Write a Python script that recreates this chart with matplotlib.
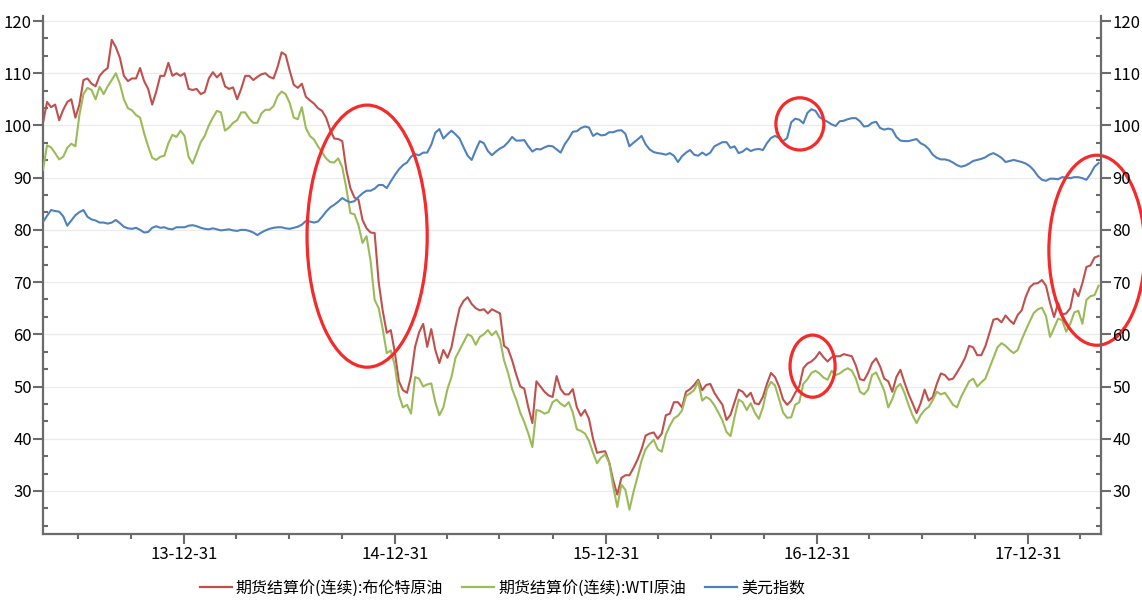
import matplotlib
matplotlib.use('Agg')
import matplotlib.pyplot as plt
import matplotlib.dates as mdates
from matplotlib.patches import Ellipse
from matplotlib.ticker import MultipleLocator, FixedLocator
from matplotlib.lines import Line2D
import pandas as pd

plt.rcParams['font.family'] = ['Noto Sans CJK SC', 'DejaVu Sans']

# ---------------- data (weekly readings) ----------------
start_date = '2013-05-01'
end_date = '2018-05-07'
series_names = ['期货结算价(连续):布伦特原油', '期货结算价(连续):WTI原油', '美元指数']

brent = [
    100.5, 104.5, 103.5, 104, 101, 103, 104.5, 105, 101.5, 104,
    108.7, 109, 108, 107.5, 109.5, 110.4, 111, 116.4, 115, 113,
    109.5, 108.5, 109, 109, 111, 108.5, 107, 104, 106.5, 109.5,
    109.5, 112, 109.5, 110, 109.5, 110, 107, 106.8, 107, 106,
    106.4, 109, 110.2, 109.2, 110, 107.5, 107, 107.3, 105, 107,
    109.5, 109.5, 108.7, 109.3, 109.8, 110, 109.3, 109, 111.2, 114,
    113.5, 110.5, 107.8, 107.2, 108, 105.5, 104.8, 104.2, 103.3, 102.8,
    101.5, 99.2, 97.5, 97.4, 97, 91.5, 88, 86.2, 85.8, 81.9,
    80.3, 79.5, 79.4, 70, 64.5, 60.3, 60.8, 56.5, 51, 49.3,
    48.8, 52, 57.6, 60.4, 62, 57.6, 61, 57, 54.5, 57,
    55.5, 57.5, 61.5, 65, 66.4, 67.1, 65.8, 65, 64.6, 64.8,
    64, 64.8, 64.4, 64, 57.8, 57.2, 55, 52.3, 50, 49.6,
    46, 43, 51, 50, 49, 48.3, 48, 52, 49.5, 48.5,
    48.5, 49.5, 46, 44.4, 45.5, 43.8, 40, 37.3, 37.5, 37.6,
    35.5, 32, 29.3, 32.5, 33, 33, 34.4, 36, 38, 40.6,
    41, 41.2, 40, 41, 44.5, 44.8, 47, 47, 46, 49,
    49.5, 50.3, 51.3, 49.3, 50.3, 50.5, 48.8, 47.6, 46.5, 43.6,
    44.6, 47, 49.4, 49, 48, 48.8, 46.8, 46.6, 48, 50.5,
    52.6, 51.8, 50, 47.5, 46.5, 47.3, 48.8, 50, 53.5, 54.4,
    54.8, 55.5, 56.6, 55.6, 54.8, 55.6, 55.8, 55.8, 56.2, 56,
    55.8, 54, 51.4, 51.2, 52.6, 54.5, 55.4, 53.8, 51.5, 51,
    49, 51.8, 53.2, 50.8, 48.6, 46.8, 44.9, 46.8, 49.4, 47.3,
    48, 50.5, 52.5, 52.2, 51.3, 51.5, 52.7, 54, 55.5, 57.8,
    57.5, 56, 56, 57.7, 60.2, 62.8, 63, 62.3, 63.6, 62.7,
    62, 63.7, 64.6, 67.2, 69, 69.7, 69.8, 70.4, 69.3, 66,
    63.3, 66, 63.8, 64, 65, 68.7, 67.3, 69.8, 72.9, 73.2,
    74.7, 75,
]

wti = [
    91.5, 96.2, 95.8, 94.7, 93.5, 94, 95.7, 96.5, 96, 102,
    106, 107.2, 106.8, 105, 107.4, 106, 107.5, 108.7, 110, 108,
    105, 103.3, 102.9, 102, 101.5, 98.5, 96, 93.8, 93.4, 94,
    94.2, 96.6, 98.2, 97.8, 99, 98, 94, 92.7, 94.7, 96.8,
    98, 100, 101.5, 102.8, 102.5, 99, 99.6, 100.5, 101, 102.5,
    102.5, 101.3, 100.5, 100.5, 102.3, 103, 103, 103.7, 105.6, 106.5,
    106, 104.3, 101.5, 101.2, 103.5, 99.5, 98, 97.3, 96, 94.8,
    93.7, 93, 92.9, 93.7, 92, 88, 83.2, 83, 80.9, 77.5,
    78.8, 74, 66.6, 65, 61, 56.4, 56.9, 54, 48.4, 46,
    46.5, 44.8, 51.8, 51.5, 50, 50.4, 50.6, 47, 44.5, 46,
    49.5, 51.8, 55.5, 57, 58.5, 60, 59.6, 58, 59.5, 60,
    60.8, 59.8, 60.6, 59, 55, 52.6, 49.5, 47.5, 45, 43.2,
    41, 38.4, 45.5, 45.3, 44.8, 45.1, 47, 47.5, 46.7, 46.2,
    47, 45, 41.8, 41.5, 41, 39.6, 37.3, 35.3, 36.4, 37,
    35.4, 30.8, 26.9, 31.2, 30.2, 26.4, 29.8, 32.7, 35.8, 38,
    39, 39.8, 38, 37.5, 40.8, 42.5, 43.9, 44.4, 45.4, 48.2,
    48.7, 49.3, 51, 47.3, 48, 47.5, 46.4, 45, 43.5, 41.3,
    40.5, 44.2, 47.5, 47, 45.5, 46.8, 45, 43.8, 46, 49.5,
    50.9, 50.2, 47.6, 45, 44, 44.1, 46.5, 47, 50.5, 51.4,
    52.6, 53, 52.5, 51.7, 51.3, 53, 52.2, 52.5, 53.1, 53.5,
    53, 51.5, 49, 48.5, 49.4, 52.2, 52.7, 51, 49.2, 46,
    47.6, 49.8, 50.5, 48.8, 46.5, 44.5, 43, 44.5, 45.5, 46.1,
    47.4, 49, 48.5, 48.8, 47.7, 46.5, 46, 48, 49.5, 51,
    51.5, 50, 50.8, 51.5, 53.5, 55.5, 57.5, 58.3, 57.8, 57,
    56.4, 57, 59, 60.8, 62.5, 64.1, 64.8, 65.1, 63.5, 59.5,
    61.2, 63, 62.7, 60.5, 62, 64.2, 64.5, 62, 66.6, 67.3,
    67.5, 69.3,
]

dxy = [
    81.5, 82.7, 83.8, 83.6, 83.5, 82.6, 80.8, 81.8, 82.8, 83.4,
    83.8, 82.5, 82, 81.8, 81.4, 81.4, 81.2, 81.4, 81.9, 81.3,
    80.6, 80.3, 80.2, 80.4, 80, 79.5, 79.6, 80.4, 80.7, 80.4,
    80.5, 80.2, 80.1, 80.5, 80.5, 80.5, 80.8, 80.9, 80.7, 80.4,
    80.2, 80.1, 80.3, 80.1, 79.9, 80, 80.1, 79.9, 79.8, 80,
    80, 79.8, 79.5, 79, 79.5, 79.9, 80.2, 80.4, 80.5, 80.5,
    80.3, 80.2, 80.4, 80.6, 81, 81.7, 81.6, 81.4, 81.6, 82.5,
    83.5, 84.3, 84.8, 85.4, 86.1, 85.6, 85.3, 85.5, 86.3, 87,
    87.5, 87.5, 87.9, 88.6, 88.6, 88, 89.3, 90.5, 91.6, 92.4,
    92.9, 94, 94.5, 94.3, 94.8, 94.8, 96.3, 98.6, 99.3, 97.5,
    98.3, 99, 98.3, 97.5, 95.8, 94.2, 93.4, 95.3, 97, 96.6,
    95.1, 94.3, 95, 95.6, 96, 96.8, 97.8, 97.1, 97.1, 97.2,
    96, 95, 95.5, 95.4, 95.8, 96.1, 96, 95.4, 94.8, 96.4,
    97.5, 98.8, 98.9, 99.5, 99.8, 99.6, 98, 98.5, 98.1, 98.2,
    98.7, 98.7, 99, 99.1, 98.4, 96, 96.7, 97.3, 98, 96.4,
    95.4, 94.9, 94.7, 94.6, 94.4, 94.7, 94.2, 93, 94.1, 94.8,
    95.3, 94.4, 94.2, 94.8, 94.3, 94.8, 96, 96.4, 96.8, 96.8,
    95.7, 96, 94.7, 95, 95.6, 95.1, 95.4, 95.5, 95.3, 96.6,
    97.6, 98, 97.6, 97, 97.6, 100.6, 101.3, 101.1, 100.4, 102.4,
    103.1, 102.8, 101.6, 101.1, 100.7, 100.2, 99.9, 100.8, 100.9, 101.2,
    101.4, 101.4, 100.8, 99.8, 99.9, 100.5, 100.7, 99.5, 99.2, 99.4,
    99.2, 97.8, 97.1, 97, 97, 97.2, 97.4, 96.6, 96.2, 95.5,
    94.4, 93.8, 93.5, 93.5, 93.3, 92.9, 92.4, 92.1, 92.3, 92.7,
    93.2, 93.4, 93.6, 93.9, 94.4, 94.7, 94.3, 93.8, 93, 93.2,
    93.4, 93.2, 93, 92.7, 92.2, 91.4, 90.3, 89.6, 89.4, 89.8,
    89.8, 89.7, 90.1, 90, 89.9, 90.1, 90.1, 89.9, 89.6, 90.7,
    92.1, 92.8,
]

# highlight ellipses: (center date, center value, width in days, height in value units)
highlights = [
    ('2014-11-13', 78.8, 208, 50.2),
    ('2016-12-01', 100.3, 83, 10.0),
    ('2016-12-23', 53.9, 78, 11.9),
    ('2018-04-29', 76.1, 166, 36.4),
]

major_tick_dates = ['2013-12-31', '2014-12-31', '2015-12-31', '2016-12-31', '2017-12-31']

colors = ['#C0504D', '#9BBB59', '#4F81BD']
axis_color = '#6b6b6b'

# ---------------- figure ----------------
fig = plt.figure(figsize=(11.42, 6.09), dpi=100)
ax = fig.add_axes([0.03765, 0.1232, 0.92685, 0.8505])
ax2 = ax.twinx()

handles = []
for vals, c, name, z in zip([brent, wti, dxy], colors, series_names, [3, 4, 5]):
    dates = pd.date_range(start_date, periods=len(vals), freq='7D')
    ln, = ax.plot(dates, vals, color=c, lw=1.5, zorder=z, solid_joinstyle='round')
    handles.append(Line2D([0], [0], color=c, lw=1.6))

ylim = (21.76, 120.96)
ax.set_ylim(*ylim)
ax2.set_ylim(*ylim)
ax.set_xlim(pd.Timestamp(start_date), pd.Timestamp(end_date))

# grid
ax.yaxis.grid(True, which='major', color='#ebebeb', lw=0.9, zorder=0)
ax.set_axisbelow(True)

# spines
for a in (ax, ax2):
    a.spines['top'].set_visible(False)
ax.spines['right'].set_visible(False)
ax2.spines['left'].set_visible(False)
ax2.spines['bottom'].set_visible(False)
for s in ('left', 'bottom'):
    ax.spines[s].set_color(axis_color)
    ax.spines[s].set_linewidth(1.6)
ax2.spines['right'].set_color(axis_color)
ax2.spines['right'].set_linewidth(1.6)

# y ticks
for a in (ax, ax2):
    a.yaxis.set_major_locator(MultipleLocator(10))
    a.yaxis.set_minor_locator(MultipleLocator(10 / 3))
    a.tick_params(axis='y', which='major', direction='out', length=7.5, width=1.5,
                  color=axis_color, labelsize=12, pad=0.5, labelcolor='black')
    a.tick_params(axis='y', which='minor', direction='in', length=3.8, width=1.5,
                  color=axis_color)
ax2.tick_params(axis='y', which='both', left=False, right=True)

# x ticks
ax.xaxis.set_major_locator(FixedLocator(mdates.date2num(pd.to_datetime(major_tick_dates))))
ax.xaxis.set_major_formatter(mdates.DateFormatter('%y-%m-%d'))
quarter_ends = pd.date_range(start_date, end_date, freq='QE')
ax.xaxis.set_minor_locator(FixedLocator(mdates.date2num(quarter_ends)))
ax.tick_params(axis='x', which='major', direction='out', length=7.5, width=1.5,
               color=axis_color, labelsize=12, pad=1.5, labelcolor='black')
ax.tick_params(axis='x', which='minor', direction='out', length=3.8, width=1.5,
               color=axis_color)

# highlight ellipses
for d, v, wd, hv in highlights:
    e = Ellipse((mdates.date2num(pd.Timestamp(d)), v), wd, hv, fill=False,
                edgecolor='#F52A2A', lw=2.3, zorder=10, clip_on=False,
                transform=ax.transData)
    ax.add_patch(e)

# legend
fig.legend(handles, series_names, loc='center', bbox_to_anchor=(0.44, 0.034),
           ncol=3, frameon=False, fontsize=11.5, handlelength=2.0,
           handletextpad=0.25, columnspacing=1.2)

fig.savefig('out.png', dpi=100)
